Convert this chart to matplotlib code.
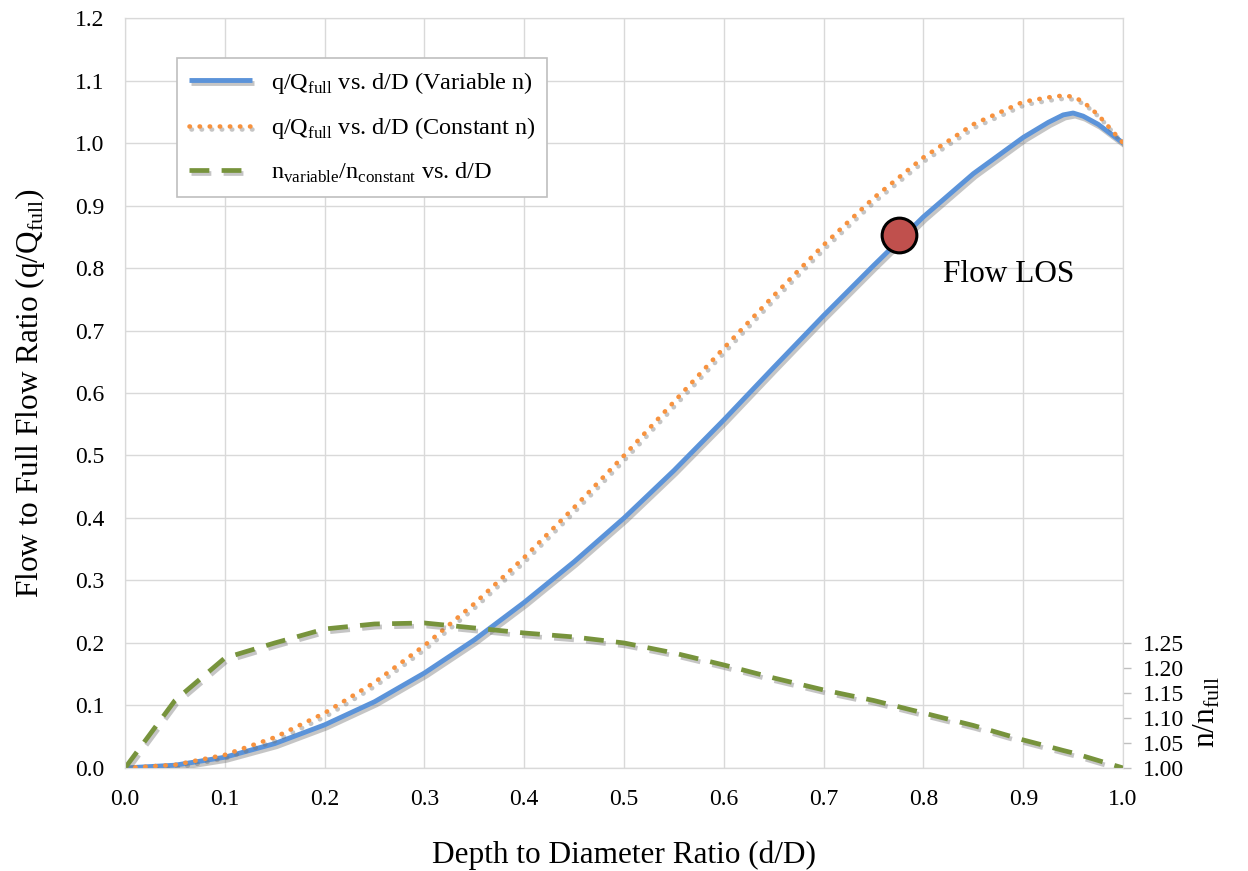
import matplotlib
matplotlib.use("Agg")
import matplotlib.pyplot as plt
import matplotlib.patheffects as pe
import numpy as np

plt.rcParams['font.family'] = ['Liberation Serif', 'DejaVu Serif']
plt.rcParams['mathtext.fontset'] = 'custom'
plt.rcParams['mathtext.rm'] = 'Liberation Serif'

# depth to diameter ratio
dD = [0.0, 0.05, 0.10, 0.15, 0.20, 0.25, 0.30, 0.35, 0.40, 0.45, 0.50, 0.55,
      0.60, 0.65, 0.70, 0.75, 0.80, 0.85, 0.90, 0.925, 0.94, 0.95, 0.96, 0.975,
      0.99, 1.0]

# q/Qfull, variable n
q_var = [0.0, 0.0044, 0.0172, 0.039, 0.069, 0.106, 0.152, 0.205, 0.265, 0.330,
         0.400, 0.476, 0.557, 0.641, 0.724, 0.804, 0.882, 0.951, 1.009, 1.033,
         1.045, 1.048, 1.043, 1.030, 1.012, 1.000]

# q/Qfull, constant n
q_const = [0.0, 0.005, 0.021, 0.049, 0.088, 0.137, 0.196, 0.263, 0.337, 0.417,
           0.500, 0.586, 0.672, 0.756, 0.837, 0.912, 0.977, 1.030, 1.066, 1.073,
           1.076, 1.074, 1.066, 1.045, 1.018, 1.000]

# n variable / n constant (right axis)
n_ratio = [1.00, 1.135, 1.22, 1.25, 1.278, 1.288, 1.29, 1.28, 1.27, 1.262,
           1.25, 1.23, 1.206, 1.18, 1.156, 1.135, 1.11, 1.085, 1.056, 1.043,
           1.035, 1.03, 1.024, 1.015, 1.006, 1.00]

# flow LOS point
los_x = [0.775]
los_y = [0.853]

x_ticks = np.arange(0, 1.01, 0.1)
y_ticks = np.arange(0, 1.21, 0.1)
n_ticks = [1.00, 1.05, 1.10, 1.15, 1.20, 1.25]

fig = plt.figure(figsize=(12.48, 8.71), dpi=100)
ax = fig.add_axes([0.1002, 0.1183, 0.7997, 0.861])
ax2 = ax.twinx()

shadow = [pe.SimpleLineShadow(offset=(1.5, -2.2), shadow_color='#707070', alpha=0.4), pe.Normal()]

l1, = ax.plot(dD, q_var, color='#5B93D9', lw=3.5, solid_capstyle='butt', solid_joinstyle='round',
              label=r'q/Q$_\mathregular{full}$ vs. d/D (Variable n)', path_effects=shadow, zorder=3)
l2, = ax.plot(dD, q_const, color='#F7923E', lw=3.3, linestyle=(0, (0.1, 2.1)),
              dash_capstyle='round',
              label=r'q/Q$_\mathregular{full}$ vs. d/D (Constant n)', path_effects=shadow, zorder=3)
l3, = ax2.plot(dD, n_ratio, color='#77933C', lw=3.4, linestyle=(0, (4.2, 2.6)),
               label=r'n$_\mathregular{variable}$/n$_\mathregular{constant}$ vs. d/D', path_effects=shadow)
ax2.plot(los_x, [1.0 + v * 1.25 for v in los_y], 'o', ms=25, mfc='#C0504D', mec='black', mew=2.2, zorder=5)

ax.set_xlim(0, 1.0)
ax.set_ylim(0, 1.2)
ax2.set_ylim(1.0, 2.5)
ax.set_xticks(x_ticks)
ax.set_yticks(y_ticks)
ax.set_xticklabels(['%.1f' % v for v in x_ticks])
ax.set_yticklabels(['%.1f' % v for v in y_ticks])
ax2.set_yticks(n_ticks)
ax2.set_yticklabels(['%.2f' % v for v in n_ticks])

ax.grid(True, color='#D9D9D9', lw=1)
ax.set_axisbelow(True)
ax.tick_params(axis='both', length=0, labelsize=17, pad=15)
ax2.tick_params(axis='y', length=6, width=1, color='#BFBFBF', labelsize=17, pad=8)
for a in (ax, ax2):
    for s in a.spines.values():
        s.set_color('#D9D9D9')
ax.spines['bottom'].set_color('#BFBFBF')

ax.set_xlabel('Depth to Diameter Ratio (d/D)', fontsize=22.5, labelpad=22)
ax.set_ylabel(r'Flow to Full Flow Ratio (q/Q$_\mathregular{full}$)', fontsize=22.5, labelpad=20)
ax2.set_ylabel(r'n/n$_\mathregular{full}$', fontsize=22.5)
ax2.yaxis.set_label_coords(1.069, 0.075)

ax2.text(0.82, 0.79 * 1.25 + 1.0, 'Flow LOS', fontsize=22.5, va='center', ha='left')

leg = ax2.legend(handles=[l1, l2, l3], loc='upper left', bbox_to_anchor=(0.052, 0.947),
                 borderaxespad=0, fontsize=17.5, frameon=True, fancybox=False,
                 edgecolor='#BFBFBF', framealpha=1, handlelength=2.6, handletextpad=0.75,
                 labelspacing=0.8, borderpad=0.5)
leg.get_frame().set_linewidth(1.2)

fig.savefig('out.png', dpi=100)
